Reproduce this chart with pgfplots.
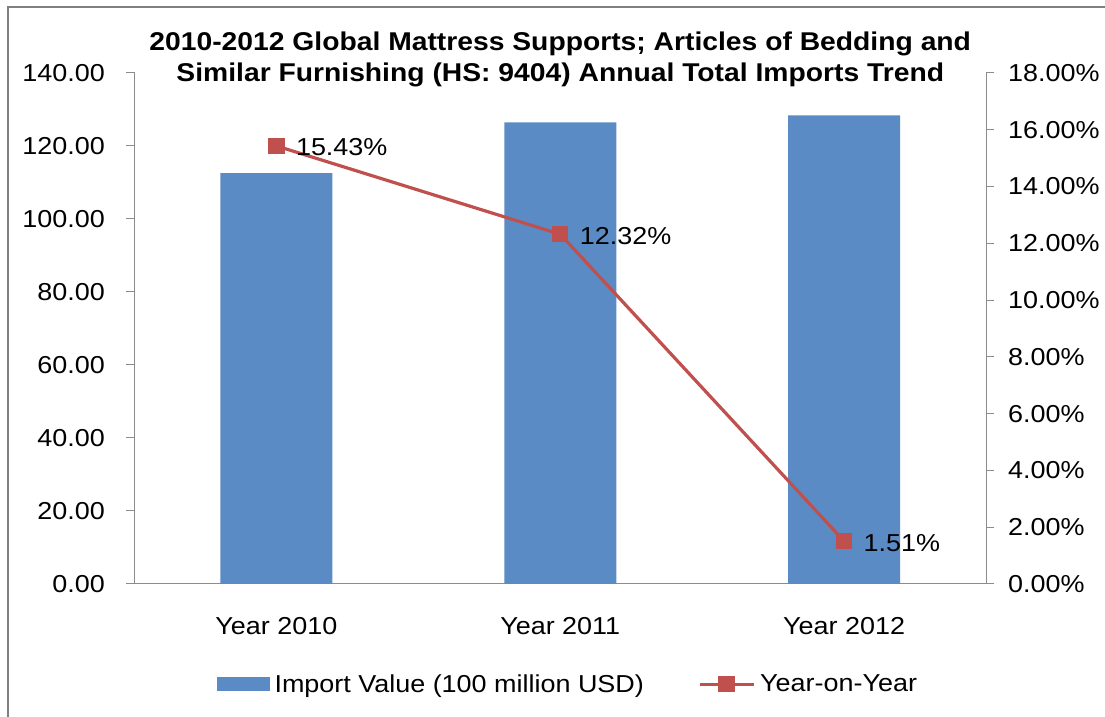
\documentclass[border=0pt]{standalone}
\usepackage{fontspec}
\setmainfont{Liberation Sans}[FakeStretch=1.1]
\usepackage{pgfplots}
\pgfplotsset{compat=1.18}
\definecolor{barblue}{HTML}{5B8BC5}
\definecolor{linered}{HTML}{C0504D}
\definecolor{axgray}{HTML}{8C8C8C}
\definecolor{framegray}{HTML}{7F7F7F}
\newcommand{\lbl}{\fontsize{24.5bp}{29bp}\selectfont}
\newcommand{\ttl}{\fontsize{25.7bp}{31bp}\selectfont\bfseries}
\begin{document}
\begin{tikzpicture}
\useasboundingbox (0bp,0bp) rectangle (1105bp,717bp);
\draw[framegray, line width=1.5bp] (8bp,-20bp) -- (8bp,710bp) -- (1130bp,710bp);
\pgfplotsset{
  common/.style={
    at={(134.5bp,133bp)}, anchor=south west,
    scale only axis, width=851.5bp, height=511bp,
    xmin=-0.5, xmax=2.5,
    /pgf/number format/assume math mode=true,
    tick align=outside,
    major tick length=8bp, minor tick length=8bp,
    axis line style={axgray, line width=1bp},
    tick style={axgray, line width=1bp},
    tick label style={font=\lbl},
  }
}
\begin{axis}[common,
  ymin=0, ymax=140,
  axis y line*=left, axis x line*=bottom,
  xtick={0,1,2}, xticklabels={Year 2010, Year 2011, Year 2012},
  xtick style={draw=none},
  minor xtick={-0.5,0.5,1.5,2.5},
  minor x tick style={axgray, line width=1bp},
  xticklabel style={anchor=north, inner sep=0pt, yshift=-25bp},
  ytick={0,20,...,140},
  yticklabel={\pgfmathprintnumber[fixed,fixed zerofill,precision=2]{\tick}},
  yticklabel style={anchor=east, inner sep=0pt, xshift=-21.5bp},
]
\addplot[ybar, bar width=112bp, fill=barblue, draw=none] coordinates {(0,112.6) (1,126.5) (2,128.4)};
\end{axis}
\begin{axis}[common,
  ymin=0, ymax=18,
  axis y line*=right, axis x line=none,
  ytick={0,2,...,18},
  yticklabel={\pgfmathprintnumber[fixed,fixed zerofill,precision=2]{\tick}\%},
  yticklabel style={anchor=west, inner sep=0pt, xshift=14bp},
  clip=false,
  title={2010-2012 Global Mattress Supports; Articles of Bedding and\\Similar Furnishing (HS: 9404) Annual Total Imports Trend},
  title style={font=\ttl, align=center, at={(0.5,1)}, anchor=south, inner sep=0pt, yshift=-20.3bp},
  legend style={at={(0.508,-0.196)}, anchor=center, draw=none, fill=none, font=\lbl,
    legend columns=2, nodes={inner sep=0pt},
    /tikz/every odd column/.append style={column sep=5bp},
    /tikz/every even column/.append style={column sep=54bp}},
]
\addlegendimage{legend image code/.code={\fill[barblue] (0bp,-6.5bp) rectangle (52bp,6.5bp);}}
\addlegendentry{Import Value (100 million USD)}
\addplot[color=linered, line width=3.2bp, mark=square*, mark size=6.5bp,
  mark options={fill=linered, draw=none},
  nodes near coords={\pgfmathprintnumber[fixed,fixed zerofill,precision=2]{\pgfplotspointmeta}\%},
  point meta=y,
  nodes near coords style={anchor=west, inner sep=0pt, xshift=18bp, yshift=-1.5bp, font=\lbl, text=black},
  legend image code/.code={\draw[linered, line width=3.2bp] (0bp,0bp) -- (54bp,0bp); \fill[linered] (20.5bp,-6.5bp) rectangle (33.5bp,6.5bp);}
] coordinates {(0,15.43) (1,12.32) (2,1.51)};
\addlegendentry{Year-on-Year}
\end{axis}
\end{tikzpicture}
\end{document}
